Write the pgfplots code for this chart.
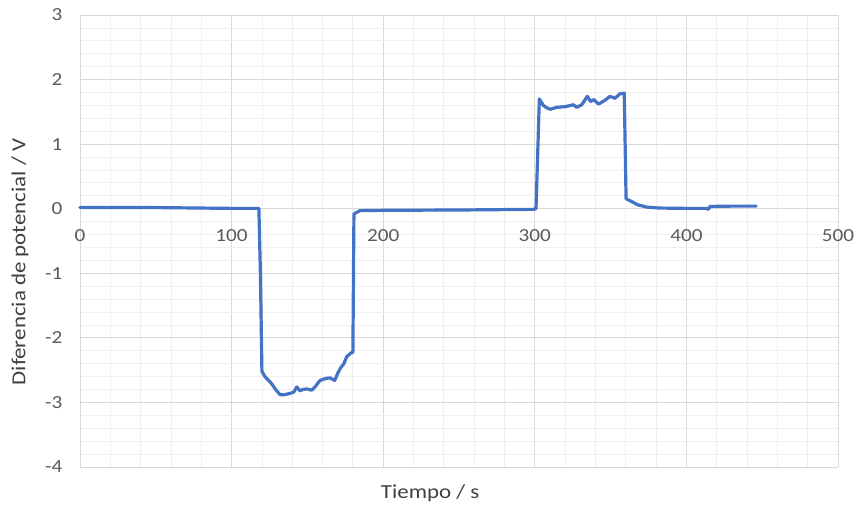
\documentclass[border=0pt]{standalone}
\usepackage{pgfplots}
\pgfplotsset{compat=1.18}
\usepackage{fontspec}
\setmainfont{Carlito}[FakeStretch=1.15]
\definecolor{lineblue}{HTML}{4472C4}
\definecolor{majgrid}{HTML}{D9D9D9}
\definecolor{mingrid}{HTML}{EFEFEF}
\definecolor{ticktext}{HTML}{595959}
\definecolor{titletext}{HTML}{404040}
\begin{document}
\begin{tikzpicture}[x=1bp,y=1bp]
\useasboundingbox (0,0) rectangle (860,508);
\begin{axis}[
  at={(80bp,41bp)}, anchor=south west,
  scale only axis, width=758bp, height=452bp,
  xmin=0, xmax=500, ymin=-4, ymax=3,
  xtick={0,100,...,500}, ytick={-4,-3,...,3},
  minor x tick num=4, minor y tick num=4,
  grid=both,
  major grid style={majgrid, line width=0.8bp},
  minor grid style={mingrid, line width=0.8bp},
  axis x line=middle, axis y line=left,
  axis line style={-, majgrid, line width=0.8bp},
  hide obscured x ticks=false, hide obscured y ticks=false,
  major tick length=0pt, minor tick length=0pt,
  /pgf/number format/assume math mode=true,
  tick label style={font=\fontsize{18.5}{22}\selectfont, text=ticktext},
  xticklabel style={anchor=north, yshift=-17bp},
  yticklabel style={anchor=east, xshift=-14bp},
  xlabel={Tiempo / s},
  ylabel={Diferencia de potencial / V},
  label style={font=\fontsize{20}{24}\selectfont, text=titletext},
  xlabel style={at={(axis description cs:0.462,-0.0575)}, anchor=center},
  ylabel style={at={(axis description cs:-0.079,0.4535)}, anchor=center, rotate=0},
  clip=false,
]
\addplot[lineblue, line width=3.2bp, line join=round, line cap=round] coordinates {
(0,0.02)(20,0.02)(40,0.02)(60,0.015)(80,0.01)(100,0.005)(118,0.005)
(119,-1.0)(120,-2.52)(122,-2.6)(124,-2.65)(126.4,-2.71)(129,-2.8)(132,-2.88)
(135,-2.88)(138.5,-2.86)(141,-2.84)(143,-2.76)(145,-2.82)(147,-2.8)(149.5,-2.79)
(152.8,-2.81)(155,-2.76)(158.3,-2.66)(162,-2.63)(165,-2.62)(168,-2.66)(170,-2.55)
(171.5,-2.48)(174,-2.4)(176,-2.29)(179,-2.23)(180,-2.23)(180.7,-0.08)(184.7,-0.03)
(200,-0.025)(250,-0.02)(299,-0.01)(300.8,0)(303,1.70)(305.6,1.60)(308,1.56)
(310.4,1.54)(314.4,1.57)(320,1.58)(325.4,1.61)(327.6,1.57)(331,1.61)(334.6,1.74)
(336.8,1.66)(339,1.69)(342,1.62)(346.3,1.68)(349.6,1.74)(352.9,1.71)(356.2,1.78)
(359,1.79)(360.2,0.155)(363.9,0.11)(368,0.06)(373.8,0.025)(382,0.01)(400,0.005)
(413,0.005)(414.5,-0.01)(415.6,0.035)(430,0.04)(446,0.04)
};
\end{axis}
\end{tikzpicture}
\end{document}
